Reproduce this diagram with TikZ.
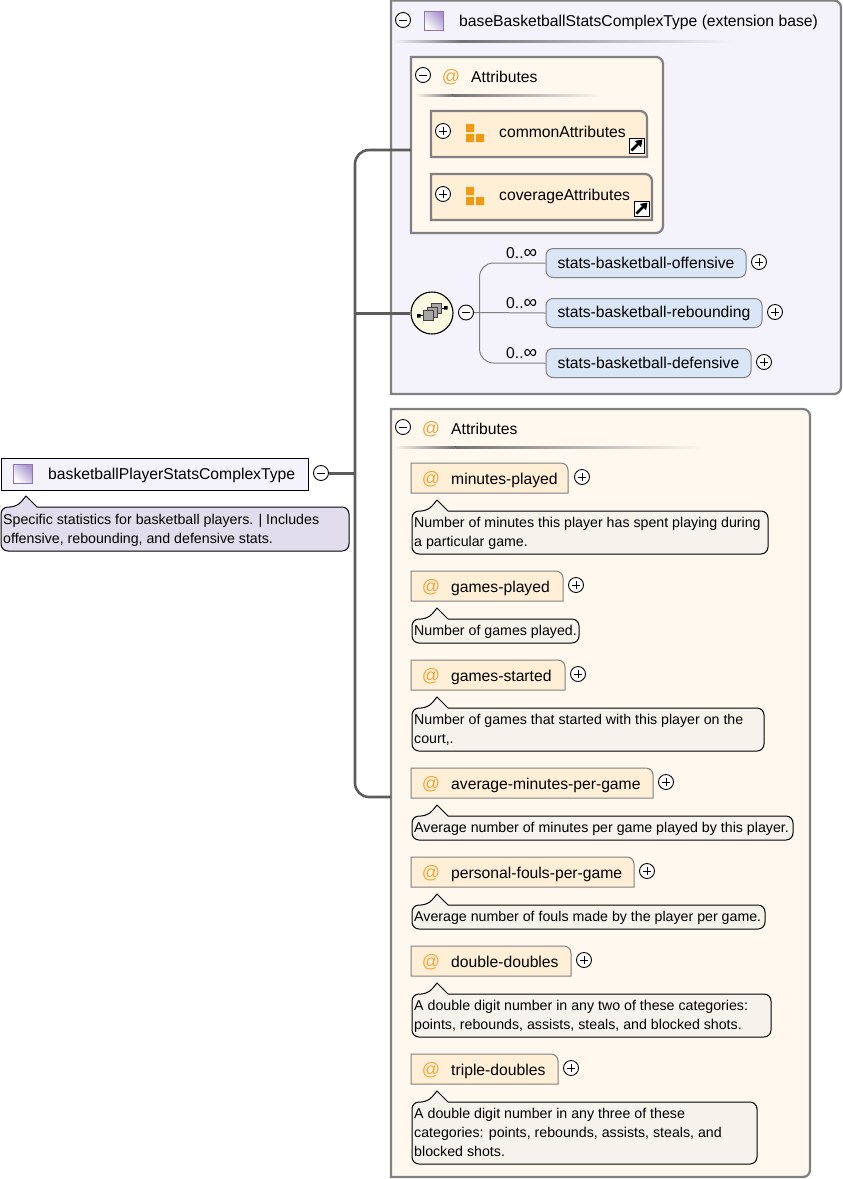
\documentclass[tikz,border=0pt]{standalone}
\usepackage{fontspec}
\setmainfont{Liberation Sans}
\usetikzlibrary{arrows.meta,calc}
\definecolor{bord}{HTML}{808080}
\definecolor{trunk}{HTML}{5C5C5C}
\definecolor{extbg}{HTML}{F4F2FB}
\definecolor{attbg}{HTML}{FFF8EE}
\definecolor{attfill}{HTML}{FFEFD6}
\definecolor{elfill}{HTML}{DAE6F6}
\definecolor{notefill}{HTML}{F6F3EC}
\definecolor{notepurple}{HTML}{E2DDEC}
\definecolor{orangeic}{HTML}{F09B0F}
\definecolor{atcol}{HTML}{EDA73C}
\definecolor{compfill}{HTML}{FBFAE3}
\definecolor{icbord}{HTML}{8F73B5}
\definecolor{icdark}{HTML}{A896CC}
\tikzset{
  x=1pt,y=-1pt,
  lab/.style={inner sep=0pt,anchor=base west,font=\fontsize{15.7}{19}\selectfont,text=black},
  notetext/.style={inner sep=0pt,anchor=north west,align=left,font=\fontsize{14.2}{19}\selectfont,text=black},
  occ/.style={inner sep=0pt,anchor=base west,font=\fontsize{15.7}{19}\selectfont,text=black},
  atsign/.style={inner sep=0pt,anchor=center,font=\fontsize{18}{19}\selectfont,text=atcol},
  wire/.style={draw=trunk,line width=2.6pt},
  hwire/.style={draw=trunk,line width=3pt},
  thinwire/.style={draw=bord,line width=1pt},
  tgl/.style={circle,draw=black,fill=white,line width=0.9pt,minimum size=15pt,inner sep=0pt},
  elem/.style={draw=bord,fill=elfill,line width=1pt,rounded corners=7pt,anchor=north west,inner sep=0pt,font=\fontsize{15.7}{19}\selectfont,text=black,align=center},
  compnode/.style={circle,draw=black,fill=compfill,line width=1.1pt,minimum size=42pt,inner sep=0pt},
  sqic/.style={draw=black!75,fill=black!35,line width=0.9pt},
  plainsq/.style={inner sep=0pt,minimum size=19pt,draw=icbord,line width=0.9pt,shading=axis,left color=white,right color=icdark,shading angle=135},
}
\newcommand{\tgminus}[3]{\node[tgl] (#1) at (#2,#3) {};\draw[line width=0.9pt] ($(#1.center)+(-4,0)$) -- ($(#1.center)+(4,0)$);}
\newcommand{\tgplus}[3]{\node[tgl] (#1) at (#2,#3) {};\draw[line width=0.9pt] ($(#1.center)+(-4,0)$) -- ($(#1.center)+(4,0)$) ($(#1.center)+(0,-4)$) -- ($(#1.center)+(0,4)$);}
% name x1 y1 x2 y2 fill width bottom-right-radius
\newcommand{\rbox}[8]{%
  \draw[draw=bord,line width=#7,fill=#6] (#2,#3) [rounded corners=7pt] -- (#4,#3) [rounded corners=#8] -- (#4,#5) [sharp corners] -- (#2,#5) -- cycle;
  \node[inner sep=0pt,minimum width=#4pt-#2pt,minimum height=#5pt-#3pt] (#1) at ({(#2+#4)/2},{(#3+#5)/2}) {};}
\newcommand{\sepline}[4]{%
  \fill[left color=#4,right color=black!55] (#1,#2) rectangle ({#1+(#3-#1)*0.2},#2+2);
  \fill[left color=black!55,right color=#4] ({#1+(#3-#1)*0.2},#2) rectangle (#3,#2+2);}
\newcommand{\notebox}[6]{%
  \draw[draw=black,line width=1pt,fill=#6] (#2+16,#3) [sharp corners] -- (#2+25,#3-11) -- (#2+36,#3) [rounded corners=7pt] -- (#4,#3) -- (#4,#5) -- (#2,#5) -- (#2,#3) -- cycle;
  \coordinate (#1) at (#2,#3);}
\newcommand{\attr}[9]{%
  \rbox{#1}{#2}{#3}{#4}{#3+30}{attfill}{1pt}{0pt}
  \node[atsign] (#1at) at (431,#3+16.5) {@};
  \node[lab] (#1lab) at (451,#3+21) {#5};
  \tgplus{#1tg}{#6}{#3+14}
  \notebox{#1note}{412}{#3+48}{#7}{#8}{notefill}
  \node[notetext] (#1txt) at (414,#3+54) {#9};}
\newcommand{\grpicon}[3]{%
  \fill[orangeic] (#2,#3) rectangle (#2+8,#3+8) (#2,#3+10) rectangle (#2+8,#3+18) (#2+10,#3+10) rectangle (#2+18,#3+18);
  \coordinate (#1) at (#2,#3);}
\newcommand{\shortcut}[3]{%
  \node[inner sep=0pt,minimum size=15pt,draw=black,fill=white,line width=1pt,anchor=north west] (#1) at (#2,#3) {};
  \draw[line width=2.8pt,-{Triangle[length=6.5pt,width=8.5pt]}] ($(#1.south west)+(3,-3)$) -- ($(#1.north east)+(-2,2)$);}
\newcommand{\occtext}{0..{\fontsize{19}{19}\selectfont∞}}
\begin{document}
\begin{tikzpicture}
\useasboundingbox (0,0) rectangle (843,1179);
\fill[white] (0,0) rectangle (843,1179);
% extension base
\rbox{ext}{391}{0.5}{841}{394}{extbg}{2.2pt}{7pt}
\tgminus{tgext}{403}{20}
\node[plainsq] (extic) at (433.5,20.5) {};
\node[lab] (extlab) at (459,26) {baseBasketballStatsComplexType (extension base)};
\sepline{393}{40}{732}{extbg}
% inner attributes
\rbox{inatt}{411}{57}{663}{233}{attbg}{2.2pt}{7pt}
\tgminus{tginatt}{423}{75}
\node[atsign] (inattat) at (451,77.5) {@};
\node[lab] (inattlab) at (471,82) {Attributes};
\sepline{415}{94}{602}{attbg}
\rbox{common}{431}{111}{647}{157}{attfill}{2.2pt}{0pt}
\tgplus{tgcommon}{443}{131}
\grpicon{commonic}{466}{124}
\node[lab] (commonlab) at (499,137) {commonAttributes};
\shortcut{commonsc}{628.5}{137.5}
\rbox{cover}{431}{174}{652}{220}{attfill}{2.2pt}{0pt}
\tgplus{tgcover}{443}{194}
\grpicon{coveric}{466}{187}
\node[lab] (coverlab) at (499,200) {coverageAttributes};
\shortcut{coversc}{633.5}{200.5}
% compositor
\coordinate (cj) at (479.5,312.5);
\node[elem,minimum width=200pt,minimum height=29pt] (off) at (545.5,248) {stats-basketball-offensive};
\node[elem,minimum width=216pt,minimum height=29pt] (reb) at (545.5,298) {stats-basketball-rebounding};
\node[elem,minimum width=205pt,minimum height=29pt] (def) at (545.5,348) {stats-basketball-defensive};
\node[compnode] (comp) at (432,313) {};
\tgminus{tgcomp}{466}{312.5}
\draw[thinwire] (tgcomp.east) -- (reb.west);
\draw[thinwire,rounded corners=14pt] (off.west) -- (cj |- off.west) -- (cj |- def.west) -- (def.west);
\tgplus{tgoff}{759}{262}
\tgplus{tgreb}{775}{312}
\tgplus{tgdef}{764}{362}
\node[occ] (occ1) at (506,258) {\occtext};
\node[occ] (occ2) at (506,308) {\occtext};
\node[occ] (occ3) at (506,358) {\occtext};
% compositor icon
\draw[line width=1pt] (420,315.5) -- (424,315.5) (441,308) -- (445,308);
\fill[black] (417,314) rectangle (420.5,317.5) (444,306) rectangle (447.5,309.5);
\draw[sqic] (431,303) rectangle (441,313);
\draw[sqic] (427,307) rectangle (437,317);
\draw[sqic] (423.5,310.5) rectangle (433,320.5);
% main attributes
\rbox{mainatt}{391}{409}{810}{1177}{attbg}{2.2pt}{7pt}
\tgminus{tgmainatt}{403}{427}
\node[atsign] (mainattat) at (431,429.5) {@};
\node[lab] (mainattlab) at (451,434) {Attributes};
\sepline{393}{446}{705}{attbg}
\attr{a}{411}{463}{568}{minutes-played}{582}{768}{554}{Number of minutes this player has spent playing during\\a particular game.}
\attr{b}{411}{571}{563}{games-played}{576}{579}{643}{Number of games played.}
\attr{c}{411}{660}{565}{games-started}{578}{764}{751}{Number of games that started with this player on the\\court,.}
\attr{d}{411}{768}{653}{average-minutes-per-game}{666}{793}{840}{Average number of minutes per game played by this player.}
\attr{e}{411}{857}{634}{personal-fouls-per-game}{647}{765}{929}{Average number of fouls made by the player per game.}
\attr{f}{411}{946}{571}{double-doubles}{584}{771}{1037}{A double digit number in any two of these categories:\\points, rebounds, assists, steals, and blocked shots.}
\attr{g}{411}{1054}{558}{triple-doubles}{571}{757}{1164}{A double digit number in any three of these\\categories: points, rebounds, assists, steals, and\\blocked shots.}
% root
\node[draw=black,fill=extbg,line width=1pt,anchor=north west,inner sep=0pt,minimum width=307.5pt,minimum height=32pt] (root) at (0.5,457.5) {};
\node[plainsq] (rootic) at (22.5,473.5) {};
\node[lab] (rootlab) at (48,479) {basketballPlayerStatsComplexType};
\tgminus{tgroot}{321}{473}
\notebox{rootnote}{1}{507}{349}{551}{notepurple}
\node[notetext] (roottxt) at (3,514) {Specific statistics for basketball players. | Includes\\offensive, rebounding, and defensive stats.};
% trunk connectors
\coordinate (jtop) at (355,150);
\coordinate (jmid) at (355,473);
\coordinate (jbot) at (355,797);
\draw[wire,rounded corners=14pt] (inatt.west |- jtop) -- (jtop) -- (jbot) -- (mainatt.west |- jbot);
\draw[hwire] (tgroot.east) -- (jmid);
\draw[hwire] (jmid |- comp.west) -- (comp.west);
\end{tikzpicture}
\end{document}
